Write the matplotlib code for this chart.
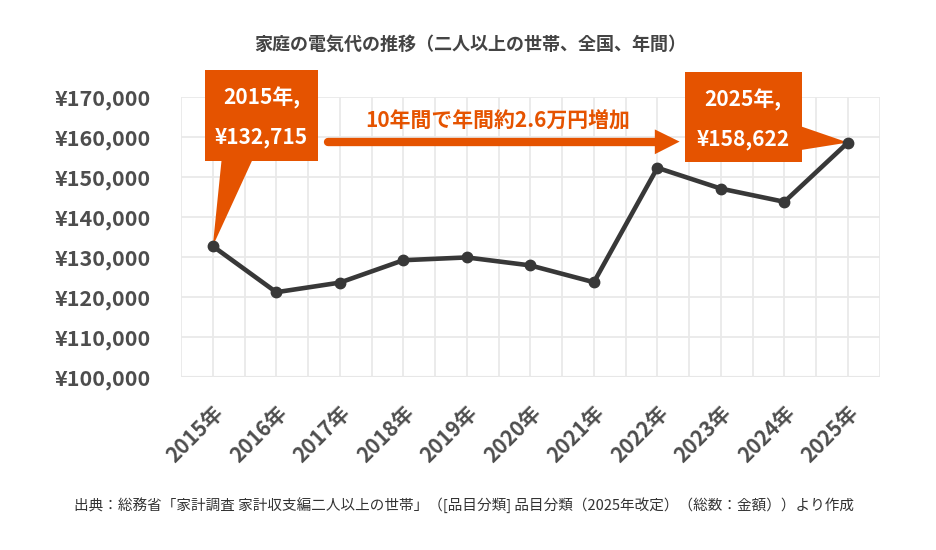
import numpy as np
import matplotlib
matplotlib.use("Agg")
import matplotlib.pyplot as plt
from matplotlib.patches import Polygon, Rectangle

plt.rcParams['font.family'] = ['Noto Sans CJK JP', 'DejaVu Sans']

# ===== データ =====
years = ["2015年", "2016年", "2017年", "2018年", "2019年", "2020年",
         "2021年", "2022年", "2023年", "2024年", "2025年"]
costs = [132715, 121200, 123600, 129200, 129900, 127900,
         123700, 152300, 147100, 143800, 158622]
yticks = [100000, 110000, 120000, 130000, 140000, 150000, 160000, 170000]

title = "家庭の電気代の推移（二人以上の世帯、全国、年間）"
note = "10年間で年間約2.6万円増加"
source = "出典：総務省「家計調査 家計収支編二人以上の世帯」（[品目分類] 品目分類（2025年改定）（総数：金額））より作成"

ORANGE = "#E55300"
LINE = "#383838"
GRID = "#e9e9e9"
TXT = "#4d4d4d"

x = np.arange(len(years))

fig = plt.figure(figsize=(9.37, 5.5), dpi=100)
ax = fig.add_axes([0.1932, 0.3145, 0.7456, 0.5091])

ax.plot(x, costs, color=LINE, lw=3.3, marker="o", ms=7.5, zorder=5,
        solid_joinstyle="round")

ax.set_xlim(-0.5, len(years) - 0.5)
ax.set_ylim(yticks[0], yticks[-1])
ax.set_yticks(yticks)
ax.set_yticklabels([f"¥{v:,}" for v in yticks])
ax.set_xticks(x)
ax.set_xticklabels(years, rotation=45, ha="right", va="top",
                   rotation_mode="anchor")
ax.set_xticks(np.arange(-0.5, len(years), 0.5), minor=True)

ax.grid(True, which="both", axis="x", color=GRID, lw=1.3)
ax.grid(True, which="major", axis="y", color=GRID, lw=1.3)
ax.tick_params(axis="both", which="both", length=0)
ax.tick_params(axis="y", labelsize=15.5, labelcolor=TXT, pad=22)
ax.tick_params(axis="x", labelsize=15, labelcolor=TXT, pad=18)
for lab in ax.get_yticklabels() + ax.get_xticklabels():
    lab.set_fontweight("bold")
for s in ax.spines.values():
    s.set_visible(False)
ax.axhline(yticks[0], color="#dddddd", lw=1.5, zorder=1)

# ===== 吹き出し（左：2015年）=====
x0, y0 = x[0], costs[0]
ax.add_patch(Rectangle((-0.12, 154100), 1.78, 22600, color=ORANGE,
                       clip_on=False, zorder=6, lw=0))
ax.add_patch(Polygon([(0.14, 154500), (0.63, 154500), (x0, y0)],
                     closed=True, color=ORANGE, clip_on=False, zorder=4, lw=0))
ax.text(0.77, 169750, f"{years[0]},", color="white", fontsize=15,
        fontweight="bold", ha="center", va="center", zorder=7)
ax.text(0.77, 160000, f"¥{costs[0]:,}", color="white", fontsize=15,
        fontweight="bold", ha="center", va="center", zorder=7)

# ===== 吹き出し（右：2025年）=====
x1, y1 = x[-1], costs[-1]
ax.add_patch(Rectangle((7.43, 153750), 1.84, 22500, color=ORANGE,
                       clip_on=False, zorder=6, lw=0))
ax.add_patch(Polygon([(9.2, 163000), (9.2, 156600), (x1, y1)],
                     closed=True, color=ORANGE, clip_on=False, zorder=4, lw=0))
ax.text(8.35, 169300, f"{years[-1]},", color="white", fontsize=15,
        fontweight="bold", ha="center", va="center", zorder=7)
ax.text(8.35, 159500, f"¥{costs[-1]:,}", color="white", fontsize=15,
        fontweight="bold", ha="center", va="center", zorder=7)

# ===== 矢印 =====
ay = 158850
ax.plot([1.82, 6.97], [ay, ay], color=ORANGE, lw=6, solid_capstyle="round",
        zorder=6)
ax.add_patch(Polygon([(6.96, 161900), (6.96, 155700), (7.35, ay)],
                     closed=True, color=ORANGE, zorder=6, lw=0))
ax.text(4.48, 164100, note, color=ORANGE, fontsize=15, fontweight="bold",
        ha="center", va="center", zorder=7)

fig.text(0.502, 0.92, title, ha="center", va="center", fontsize=13,
         fontweight="bold", color="#444444")
fig.text(0.495, 0.08, source, ha="center", va="center", fontsize=10.5,
         color="#333333")

fig.savefig("out.png", dpi=100)
